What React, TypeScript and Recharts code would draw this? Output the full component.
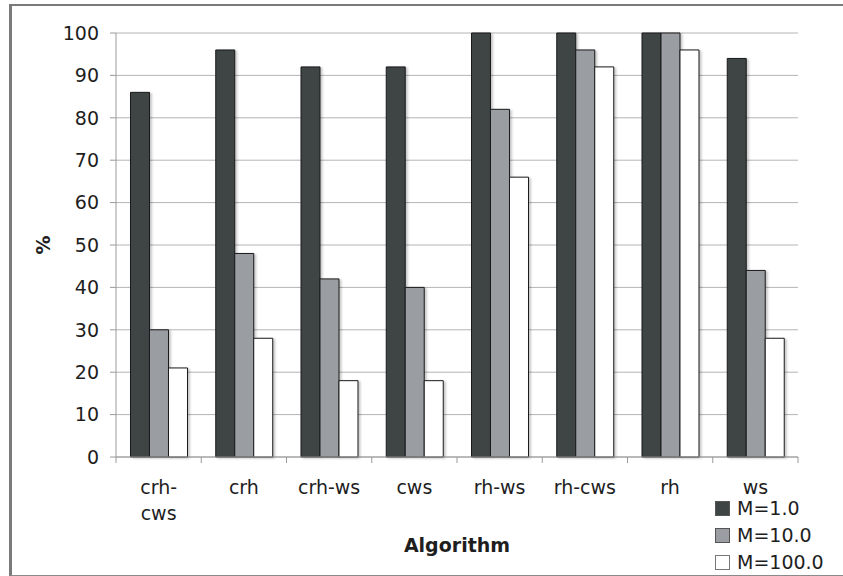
import React from 'react';
import { BarChart, Bar, XAxis, YAxis, CartesianGrid, Legend, Rectangle } from 'recharts';

// Success rate per algorithm, for three values of M
const categories = ['crh-cws', 'crh', 'crh-ws', 'cws', 'rh-ws', 'rh-cws', 'rh', 'ws'];
const seriesM1 = [86, 96, 92, 92, 100, 100, 100, 94];
const seriesM10 = [30, 48, 42, 40, 82, 96, 100, 44];
const seriesM100 = [21, 28, 18, 18, 66, 92, 96, 28];
const seriesNames = ['M=1.0', 'M=10.0', 'M=100.0'];
const yTicks = [0, 10, 20, 30, 40, 50, 60, 70, 80, 90, 100];

const seriesFill = ['#3f4444', '#9a9ea2', '#ffffff'];
const FONT = '"DejaVu Sans", Verdana, sans-serif';
const TEXT = '#1e1e1e';
const AXIS = '#9a9a9a';

const data = categories.map((name, i) => ({
  name,
  m1: seriesM1[i],
  m10: seriesM10[i],
  m100: seriesM100[i],
}));
const seriesKeys = ['m1', 'm10', 'm100'];

// Bars carry a soft shadow on their right side
const ShadowBar = (props: any) => (
  <Rectangle {...props} style={{ filter: 'drop-shadow(2px 1px 1px rgba(0,0,0,0.22))' }} />
);

// Category axis tick: long hyphenated names wrap after the hyphen.
// A short tick mark is drawn at the left edge of each category band,
// plus one at the right edge of the last band.
const CategoryTick = (props: any) => {
  const { x, y, payload, index, visibleTicksCount } = props;
  const label: string = payload.value;
  const half = payload.offset || 0;
  const dash = label.indexOf('-');
  const lines = label.length > 6 && dash > 0 ? [label.slice(0, dash + 1), label.slice(dash + 1)] : [label];
  const isLast = index === visibleTicksCount - 1;
  return (
    <g>
      <line x1={x - half} x2={x - half} y1={y} y2={y + 6} stroke={AXIS} />
      {isLast && <line x1={x + half} x2={x + half} y1={y} y2={y + 6} stroke={AXIS} />}
      <text x={x} y={y} textAnchor="middle" fontSize={19} fontFamily={FONT} fill={TEXT}>
        {lines.map((l, i) => (
          <tspan key={i} x={x} dy={i === 0 ? 37 : 26}>
            {l}
          </tspan>
        ))}
      </text>
    </g>
  );
};

const YTitle = (props: any) => {
  const { viewBox } = props;
  const cx = viewBox.x + 43;
  const cy = viewBox.y + viewBox.height / 2;
  return (
    <text
      x={cx}
      y={cy}
      transform={`rotate(-90 ${cx} ${cy})`}
      textAnchor="middle"
      dominantBaseline="central"
      fontSize={19}
      fontWeight="bold"
      fontFamily={FONT}
      fill={TEXT}
    >
      %
    </text>
  );
};

const XTitle = (props: any) => {
  const { viewBox } = props;
  return (
    <text
      x={viewBox.x + viewBox.width / 2}
      y={viewBox.y + 95}
      textAnchor="middle"
      fontSize={19}
      fontWeight="bold"
      fontFamily={FONT}
      fill={TEXT}
    >
      Algorithm
    </text>
  );
};

const LegendBox = () => (
  <div style={{ fontFamily: FONT, fontSize: 19, color: TEXT, lineHeight: '27px' }}>
    {seriesNames.map((n, i) => (
      <div key={n} style={{ display: 'flex', alignItems: 'center', height: 27 }}>
        <span
          style={{
            display: 'inline-block',
            width: 15,
            height: 15,
            boxSizing: 'border-box',
            background: seriesFill[i],
            border: `1px solid ${i === 2 ? '#777' : '#555'}`,
            marginRight: 7,
          }}
        />
        <span>{n}</span>
      </div>
    ))}
  </div>
);

export default function App() {
  return (
    <div
      style={{
        position: 'absolute',
        left: 0,
        top: 0,
        width: 843,
        height: 576,
        overflow: 'hidden',
        background: '#fff',
      }}
    >
      <BarChart
        width={843}
        height={576}
        data={data}
        margin={{ top: 33, right: 45, left: 0, bottom: 0 }}
        barCategoryGap="17%"
        barGap={0}
        style={{ position: 'absolute', left: 0, top: 0 }}
      >
        <CartesianGrid vertical={false} stroke="#b4b4b4" />
        <XAxis
          dataKey="name"
          height={119}
          tickLine={false}
          tickSize={0}
          tickMargin={0}
          axisLine={{ stroke: AXIS }}
          tick={<CategoryTick />}
          interval={0}
          label={<XTitle />}
        />
        <YAxis
          width={116}
          domain={[0, 100]}
          ticks={yTicks}
          interval={0}
          tickSize={6}
          tickMargin={11}
          tickLine={{ stroke: AXIS }}
          axisLine={{ stroke: AXIS }}
          tick={{ fontSize: 19, fontFamily: FONT, fill: TEXT }}
          label={<YTitle />}
        />
        <YAxis
          yAxisId="right"
          orientation="right"
          width={0}
          domain={[0, 100]}
          tick={false}
          tickLine={false}
          axisLine={{ stroke: AXIS }}
        />
        {seriesKeys.map((k, i) => (
          <Bar
            key={k}
            dataKey={k}
            name={seriesNames[i]}
            fill={seriesFill[i]}
            stroke="#1a1a1a"
            strokeWidth={1}
            shape={ShadowBar}
            isAnimationActive={false}
          />
        ))}
        <Legend
          layout="horizontal"
          verticalAlign="middle"
          align="center"
          content={<LegendBox />}
          wrapperStyle={{ left: 715, top: 495, width: 130, height: 81 }}
        />
      </BarChart>
      <div
        style={{
          position: 'absolute',
          left: 9,
          top: 4,
          width: 900,
          height: 572,
          boxSizing: 'border-box',
          borderTop: '2px solid #7a7a7a',
          borderLeft: '3px solid #7a7a7a',
          borderBottom: '1px solid #8a8a8a',
          pointerEvents: 'none',
        }}
      />
    </div>
  );
}
